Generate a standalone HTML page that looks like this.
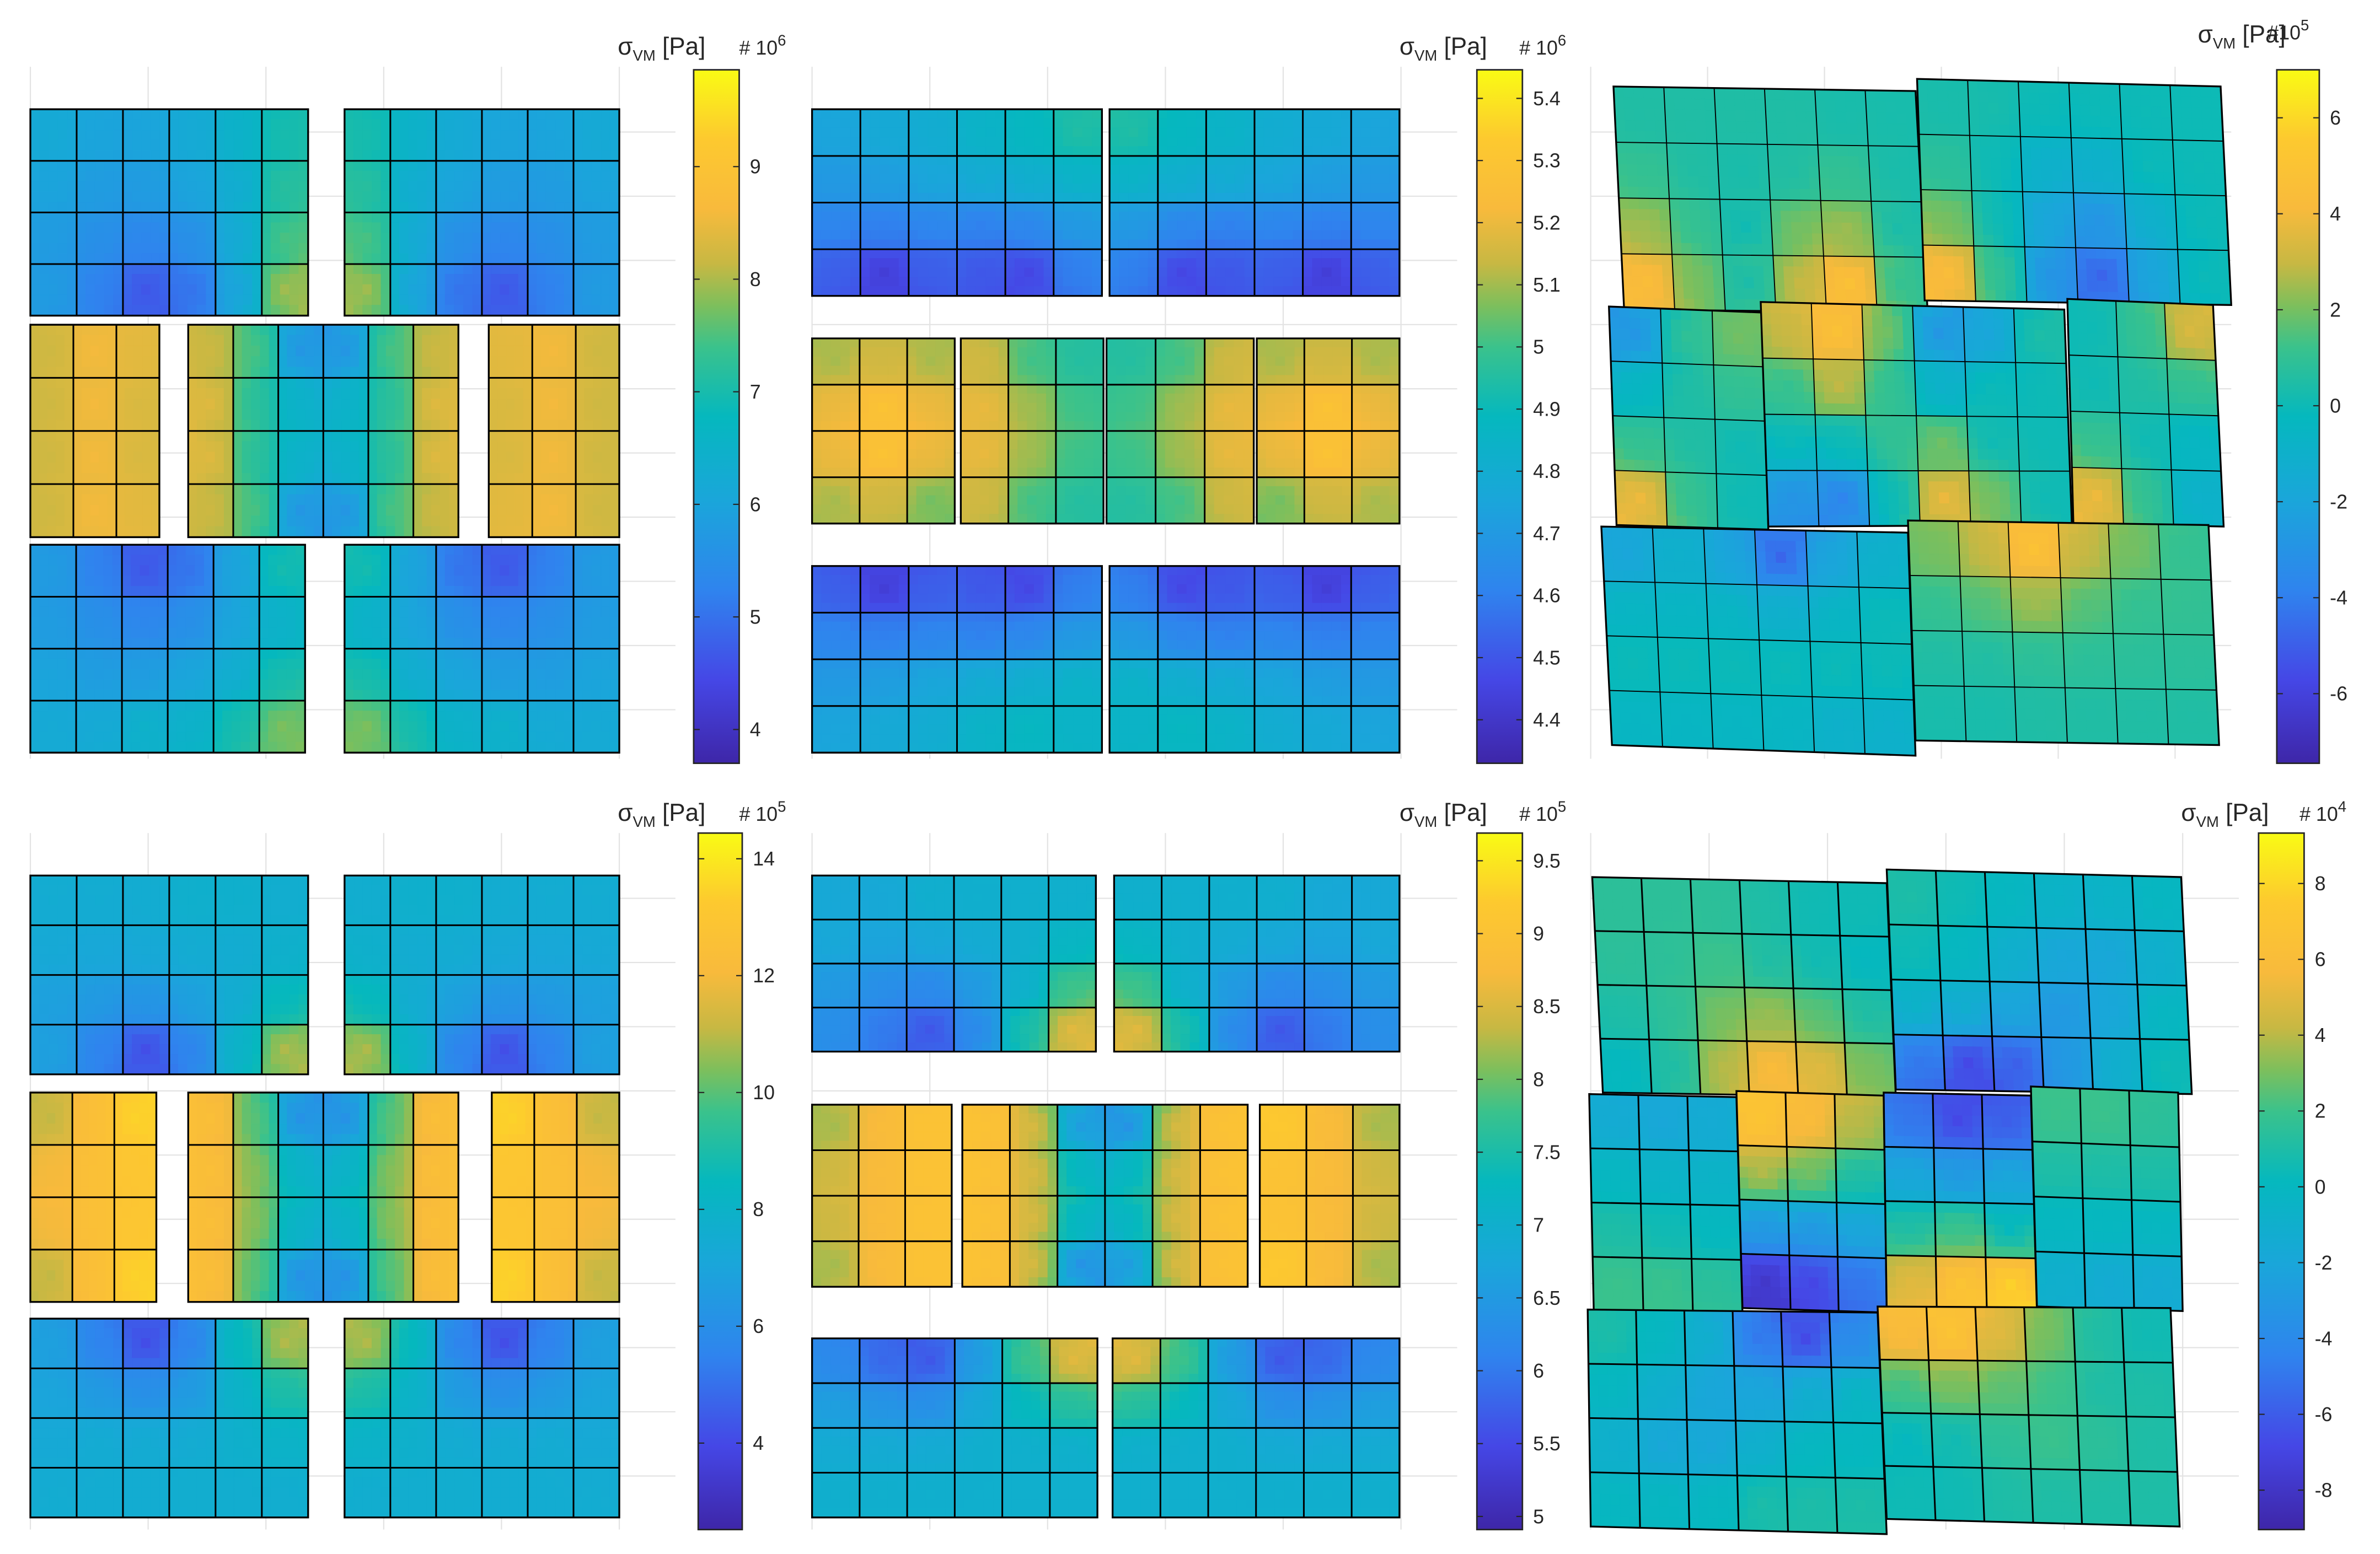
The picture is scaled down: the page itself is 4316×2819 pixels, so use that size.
<!DOCTYPE html>
<html><head><meta charset="utf-8"><style>
html,body{margin:0;padding:0;background:#fff;overflow:hidden;width:4316px;height:2819px;}
svg{display:block;}
text{font-family:"Liberation Sans",sans-serif;fill:#262626;}
</style></head><body>
<svg id="fig" width="4316" height="2819" viewBox="0 0 1568 1024.1" preserveAspectRatio="none" xmlns="http://www.w3.org/2000/svg">
<defs>
<linearGradient id="parula" x1="0" y1="1" x2="0" y2="0">
<stop offset="0" stop-color="#3e26a8"/><stop offset="0.12" stop-color="#4547e6"/>
<stop offset="0.25" stop-color="#2f84ee"/><stop offset="0.38" stop-color="#1aa6da"/>
<stop offset="0.5" stop-color="#05b8be"/><stop offset="0.6" stop-color="#3ac28c"/>
<stop offset="0.66" stop-color="#7dbf5c"/><stop offset="0.72" stop-color="#c7b843"/>
<stop offset="0.8" stop-color="#f8ba3c"/>
<stop offset="0.9" stop-color="#fdc92f"/><stop offset="1" stop-color="#f9fb14"/>
</linearGradient>
</defs>
</svg>
<script>
// ---- colorbar ticks ----
const ticks1=[4,5,6,7,8,9];
const ticks2=[4.4,4.5,4.6,4.7,4.8,4.9,5,5.1,5.2,5.3,5.4];
const ticks3=[-6,-4,-2,0,2,4,6];
const ticks4=[4,6,8,10,12,14];
const ticks5=[5,5.5,6,6.5,7,7.5,8,8.5,9,9.5];
const ticks6=[-8,-6,-4,-2,0,2,4,6,8];
const exps=['6','6','5','5','5','4'];
const ranges=[[3.70,9.86],[4.33,5.446],[-7.45,7.0],[2.52,14.44],[4.91,9.69],[-9.04,9.33]];
// ---- element stress values (per block, rows x cols) ----
const p1TL=[[6.2,6.0,6.0,6.2,6.5,7.0],[6.0,5.8,5.8,6.0,6.3,7.2],[5.8,5.5,5.3,5.5,6.2,7.5],[5.8,5.2,4.6,5.0,6.0,8.0]];
const p1TR=[[7.0,6.5,6.2,6.0,6.0,6.2],[7.2,6.3,6.0,5.8,5.8,6.0],[7.5,6.2,5.5,5.3,5.5,5.8],[8.0,6.0,5.0,4.6,5.2,5.8]];
const p1ML=[[8.2,8.6,8.4],[8.2,8.6,8.3],[8.2,8.6,8.3],[8.2,8.6,8.4]];
const p1MC=[[8.2,7.5,5.6,5.6,7.5,8.2],[8.4,7.2,6.5,6.5,7.2,8.4],[8.4,7.2,6.5,6.5,7.2,8.4],[8.2,7.5,5.6,5.6,7.5,8.2]];
const p1MR=[[8.4,8.6,8.2],[8.3,8.6,8.2],[8.3,8.6,8.2],[8.4,8.6,8.2]];
const p1BL=[[5.8,5.2,4.6,5.0,6.0,7.0],[5.8,5.5,5.3,5.5,6.0,6.5],[6.0,5.8,5.8,6.0,6.3,7.0],[6.2,6.2,6.5,6.5,7.0,7.8]];
const p1BR=[[7.0,6.0,5.0,4.6,5.2,5.8],[6.5,6.0,5.5,5.3,5.5,5.8],[7.0,6.3,6.0,5.8,5.8,6.0],[7.8,7.0,6.5,6.5,6.2,6.2]];
const p2TL=[[4.75,4.78,4.8,4.85,4.88,4.95],[4.7,4.72,4.76,4.8,4.82,4.85],[4.62,4.6,4.62,4.6,4.62,4.7],[4.52,4.42,4.52,4.5,4.45,4.6]];
const p2TR=[[4.95,4.88,4.85,4.8,4.78,4.75],[4.85,4.82,4.8,4.76,4.72,4.7],[4.7,4.62,4.6,4.62,4.6,4.62],[4.6,4.45,4.5,4.52,4.42,4.52]];
const p2M1=[[5.1,5.15,5.1],[5.2,5.3,5.2],[5.2,5.3,5.2],[5.1,5.15,5.05]];
const p2M2=[[5.15,5.0,4.95],[5.2,5.1,5.0],[5.2,5.1,5.0],[5.15,5.0,4.95]];
const p2M3=[[4.95,5.0,5.15],[5.0,5.1,5.2],[5.0,5.1,5.2],[4.95,5.0,5.15]];
const p2M4=[[5.1,5.15,5.1],[5.2,5.3,5.2],[5.2,5.3,5.2],[5.05,5.15,5.1]];
const p2BL=[[4.52,4.42,4.52,4.5,4.45,4.6],[4.62,4.6,4.62,4.6,4.62,4.7],[4.7,4.72,4.76,4.8,4.82,4.85],[4.75,4.78,4.8,4.85,4.88,4.85]];
const p2BR=[[4.6,4.45,4.5,4.52,4.42,4.52],[4.7,4.62,4.6,4.62,4.6,4.62],[4.85,4.82,4.8,4.76,4.72,4.7],[4.85,4.88,4.85,4.8,4.78,4.75]];
const p3TL=[[0.5,0.5,0.5,0.5,0.3,0.3],[1,0.5,0.3,0.5,1,0.3],[2.5,1,0,2,2.5,0.3],[4.5,2,0.3,3,5,1]];
const p3TR=[[0.3,0.3,0,0,0,0],[0.8,0,-1,-1,0,0],[2,0,-2,-3,-1,0],[4.5,1,-3,-5,-2,0]];
const p3ML=[[-3,1,2],[-0.5,0.5,1],[1,0.5,0],[4,1,0]];
const p3MC=[[3,5,2,-3,-2,0.5],[1,3,1,-1,0,0],[0,0,1,2,0,0],[-3,-4,0,4,2,0]];
const p3MR=[[0,1,3.5],[0,0.5,1],[1,0,-0.5],[4,1,-1]];
const p3BL=[[-2,-1,-2,-5,-2,-1],[-0.5,-0.5,-0.5,-1,-0.5,0],[0,0,0,0,0,0],[-0.5,-0.5,-0.5,-0.5,-1,-1]];
const p3BR=[[2,3,5,3,2,1],[1,1.5,2.5,1.5,1,1],[0.5,0.5,0.8,0.8,0.8,0.8],[0.3,0.3,0.5,0.5,0.5,0.5]];
const p4TL=[[7.5,7.5,7.5,7.8,7.8,7.6],[7.3,7.2,7.3,7.5,7.5,7.8],[6.8,6.5,6.3,6.8,7.5,8.5],[6.8,5.5,4.0,5.5,8.0,11]];
const p4TR=[[7.6,7.8,7.8,7.5,7.5,7.5],[7.8,7.5,7.5,7.3,7.2,7.3],[8.5,7.5,6.8,6.3,6.5,6.8],[11,8.0,5.5,4.0,5.5,6.8]];
const p4ML=[[11,12.5,13.5],[12,12.5,13],[12,12.5,13],[11,12.5,13.5]];
const p4MC=[[12.5,10,6,6,10,12.5],[12.5,10.5,8,8,10.5,12.5],[12.5,10.5,8,8,10.5,12.5],[12.5,10,6,6,10,12.5]];
const p4MR=[[13.5,12.5,11],[13,12.5,12],[13,12.5,12],[13.5,12.5,11]];
const p4BL=[[6.8,5.5,4.0,5.5,8.5,11],[7.0,6.5,6.0,6.5,8,9],[7.3,7.5,7.5,7.5,7.8,8],[7.5,7.5,7.5,7.6,7.6,7.6]];
const p4BR=[[11,8.5,5.5,4.0,5.5,6.8],[9,8,6.5,6.0,6.5,7.0],[8,7.8,7.5,7.5,7.5,7.3],[7.6,7.6,7.6,7.5,7.5,7.5]];
const p5TL=[[6.8,6.8,7,7,7,7],[6.8,6.7,6.8,6.9,7,7.2],[6.5,6.3,6.2,6.5,7,7.8],[6.3,6,5.6,6.2,7.5,8.6]];
const p5TR=[[7,7,7,7,6.8,6.8],[7.2,7,6.9,6.8,6.7,6.8],[7.8,7,6.5,6.2,6.3,6.5],[8.6,7.5,6.2,5.6,6,6.3]];
const p5ML=[[8.2,8.8,9.0],[8.4,8.8,9.0],[8.4,8.8,9.0],[8.2,8.8,9.0]];
const p5MC=[[9.0,8.5,6.5,6.3,8.5,9.0],[9,8.5,7.2,7.2,8.5,9],[9,8.5,7.2,7.2,8.5,9],[9.0,8.5,6.3,6.5,8.5,9.0]];
const p5MR=[[9.2,8.8,8.2],[9.0,8.8,8.4],[9.0,8.8,8.4],[9.2,8.8,8.2]];
const p5BL=[[6.2,5.8,5.6,6.5,7.8,8.6],[6.6,6.4,6.3,6.8,7.3,7.6],[6.9,6.9,6.9,7,7,7],[7,7,7,7,7,7]];
const p5BR=[[8.6,7.8,6.5,5.6,5.8,6.2],[7.6,7.3,6.8,6.3,6.4,6.6],[7,7,7,6.9,6.9,6.9],[7,7,7,7,7,7]];
const p6TL=[[1.5,1.5,1.5,1,0.5,0.5],[1.5,1.5,2,1,0.5,0],[1,1.5,3,3.5,2.5,1],[0,1,4,6,5,3]];
const p6TR=[[1,0.5,0,-0.5,-0.5,0],[0.5,0,-1,-2,-2,-1],[-0.5,-1,-2,-3,-2,0],[-5,-7,-6,-3,-1,0.5]];
const p6M1=[[-1.5,-2,-1.5],[0,-0.5,-0.5],[1,0.5,0],[2,2,1.5]];
const p6M2=[[7,6,4],[4,3,1],[-3,-3,-2],[-8,-7,-5]];
const p6M3=[[-5,-7,-6],[-2,-3,-2],[1,2,0],[5,7,8]];
const p6M4=[[2,2,1.5],[1,1,1],[0,0,0],[-1,-1.5,-1.5]];
const p6BL=[[1,0,-1,-5,-7,-4],[0,-1,-2,-2,-1,0],[-1,-2,-2,-1,0,0],[0,0,0,1,1,1]];
const p6BR=[[6,7,5,3,1,0.5],[2,3,2.5,2,1,1],[0,0.5,1.5,2,1.5,1],[0.5,0.5,1,1,1,1]];

// ---- layout (geometry) ----
function R(x0,y0,x1,y1){return [[x0,y0],[x1,y0],[x1,y1],[x0,y1]];}
const panels=[
 {name:'panel-1',ax:[20,44,445,500],cb:[457,46,487,503],ticks:ticks1,lab:[407,36],exp:[487,36],
  blocks:[[R(20,72,203,208),p1TL],[R(227,72,408,208),p1TR],[R(20,214,105,354),p1ML],[R(124,214,302,354),p1MC],[R(322,214,408,354),p1MR],[R(20,359,201,496),p1BL],[R(227,359,408,496),p1BR]]},
 {name:'panel-2',ax:[535,44,960,500],cb:[973,46,1003,503],ticks:ticks2,lab:[922,36],exp:[1001,36],
  blocks:[[R(535,72,726,195),p2TL],[R(731,72,922,195),p2TR],[R(535,223,629,345),p2M1],[R(633,223,727,345),p2M2],[R(729,223,826,345),p2M3],[R(828,223,922,345),p2M4],[R(535,373,726,496),p2BL],[R(731,373,922,496),p2BR]]},
 {name:'panel-3',ax:[1048,44,1470,500],cb:[1500,46,1528,503],ticks:ticks3,lab:[1448,28],exp:[1494,26],thin:true,
  blocks:[[[[1063,57],[1262,60],[1270,206],[1070,204]],p3TL],[[[1263,52],[1463,57],[1470,201],[1268,198]],p3TR],
   [[[1060,202],[1162,206],[1165,349],[1065,346]],p3ML],[[[1160,199],[1360,204],[1365,346],[1165,347]],p3MC],[[[1362,197],[1458,201],[1465,347],[1366,345]],p3MR],
   [[[1055,347],[1257,351],[1262,498],[1062,491]],p3BL],[[[1257,343],[1455,346],[1462,491],[1262,488]],p3BR]]},
 {name:'panel-4',ax:[20,549,445,1008],cb:[460,549,489,1008],ticks:ticks4,lab:[407,541],exp:[487,541],
  blocks:[[R(20,577,203,708),p4TL],[R(227,577,408,708),p4TR],[R(20,720,103,858),p4ML],[R(124,720,302,858),p4MC],[R(324,720,408,858),p4MR],[R(20,869,203,1000),p4BL],[R(227,869,408,1000),p4BR]]},
 {name:'panel-5',ax:[535,549,960,1008],cb:[973,549,1003,1008],ticks:ticks5,lab:[922,541],exp:[1001,541],
  blocks:[[R(535,577,722,693),p5TL],[R(734,577,922,693),p5TR],[R(535,728,627,848),p5ML],[R(634,728,822,848),p5MC],[R(830,728,922,848),p5MR],[R(535,882,723,1000),p5BL],[R(733,882,922,1000),p5BR]]},
 {name:'panel-6',ax:[1048,549,1475,1008],cb:[1488,549,1518,1008],ticks:ticks6,lab:[1437,541],exp:[1515,541],
  blocks:[[[[1049,578],[1243,582],[1249,723],[1056,720]],p6TL],[[[1243,573],[1437,578],[1444,721],[1249,718]],p6TR],
   [[[1047,721],[1144,723],[1148,866],[1050,864]],p6M1],[[[1144,719],[1241,722],[1243,865],[1148,862]],p6M2],
   [[[1241,720],[1338,722],[1342,865],[1243,863]],p6M3],[[[1338,716],[1435,720],[1438,864],[1342,861]],p6M4],
   [[[1046,863],[1237,865],[1243,1011],[1048,1006]],p6BL],[[[1237,861],[1430,862],[1436,1006],[1243,1001]],p6BR]]}
];

const NS='http://www.w3.org/2000/svg';
const svg=document.getElementById('fig');
const stops=[[0,'3e26a8'],[0.12,'4547e6'],[0.25,'2f84ee'],[0.38,'1aa6da'],[0.5,'05b8be'],[0.6,'3ac28c'],[0.66,'7dbf5c'],[0.72,'c7b843'],[0.8,'f8ba3c'],[0.9,'fdc92f'],[1,'f9fb14']]
 .map(s=>[s[0],[0,2,4].map(k=>parseInt(s[1].substr(k,2),16))]);
function parula(t){t=Math.max(0,Math.min(1,t));let i=0;while(i<stops.length-2&&t>stops[i+1][0])i++;
 const u=(t-stops[i][0])/(stops[i+1][0]-stops[i][0]);
 const c=stops[i][1].map((a,k)=>Math.round(a+(stops[i+1][1][k]-a)*u));return 'rgb('+c.join(',')+')';}
function el(tag,attrs,parent){const e=document.createElementNS(NS,tag);for(const k in attrs)e.setAttribute(k,attrs[k]);(parent||svg).appendChild(e);return e;}
function P(q,s,t){const x=(1-s)*(1-t)*q[0][0]+s*(1-t)*q[1][0]+s*t*q[2][0]+(1-s)*t*q[3][0];
 const y=(1-s)*(1-t)*q[0][1]+s*(1-t)*q[1][1]+s*t*q[2][1]+(1-s)*t*q[3][1];return [x,y];}
function pts(a){return a.map(p=>p[0].toFixed(2)+','+p[1].toFixed(2)).join(' ');}
const SUB=5;
panels.forEach((pn,pi)=>{
 const g=el('g',{});
 
 
 const [vmin,vmax]=ranges[pi];
 const ax=pn.ax;
 const grid=el('g',{stroke:'#e3e3e3','stroke-width':0.8},g);
 
 
 for(let y=ax[1]+43;y<ax[3];y+=42.3) el('line',{x1:ax[0],x2:ax[2],y1:y,y2:y},grid);
 for(let k=0;k<=5;k++){const x=ax[0]+k*(ax[2]-ax[0]-37)/5;el('line',{x1:x,x2:x,y1:ax[1],y2:ax[3]},grid);}
 pn.blocks.forEach((b,bi)=>{
  const q=b[0],vals=b[1],rows=vals.length,cols=vals[0].length;
  const bg=el('g',{},g);
  
  
  const cv=(i,j)=>vals[Math.max(0,Math.min(rows-1,i))][Math.max(0,Math.min(cols-1,j))];
  const nv=(i,j)=>(cv(i-1,j-1)+cv(i-1,j)+cv(i,j-1)+cv(i,j))/4;
  const fg=el('g',{},bg);
  for(let i=0;i<rows;i++)for(let j=0;j<cols;j++){
   const n00=nv(i,j),n01=nv(i,j+1),n10=nv(i+1,j),n11=nv(i+1,j+1),c=vals[i][j];
   for(let a=0;a<SUB;a++)for(let bb=0;bb<SUB;bb++){
    const s=(bb+0.5)/SUB,t=(a+0.5)/SUB;
    const bil=(1-s)*(1-t)*n00+s*(1-t)*n01+(1-s)*t*n10+s*t*n11;
    const w=Math.max(0,1-2*Math.max(Math.abs(s-0.5),Math.abs(t-0.5)));
    const m=0.35+0.55*w;
    const v=bil*(1-m)+c*m;
    const col=parula((v-vmin)/(vmax-vmin));
    const s0=(j+bb/SUB)/cols,s1=(j+(bb+1)/SUB)/cols,t0=(i+a/SUB)/rows,t1=(i+(a+1)/SUB)/rows;
    const poly=[P(q,s0,t0),P(q,s1,t0),P(q,s1,t1),P(q,s0,t1)];
    const cell=el('polygon',{points:pts(poly),fill:col,stroke:col,'stroke-width':0.5},fg);
    
    
   }
  }
  const lw=pn.thin?0.7:1.1;
  const ln=el('g',{stroke:'#000','stroke-width':lw,fill:'none'},bg);
  for(let i=1;i<rows;i++)el('line',{x1:P(q,0,i/rows)[0],y1:P(q,0,i/rows)[1],x2:P(q,1,i/rows)[0],y2:P(q,1,i/rows)[1]},ln);
  for(let j=1;j<cols;j++)el('line',{x1:P(q,j/cols,0)[0],y1:P(q,j/cols,0)[1],x2:P(q,j/cols,1)[0],y2:P(q,j/cols,1)[1]},ln);
  el('polygon',{points:pts(q),'stroke-width':1.2},ln);
 });
 const cb=pn.cb;
 const cbg=el('g',{},g);
 
 
 el('rect',{x:cb[0],y:cb[1],width:cb[2]-cb[0],height:cb[3]-cb[1],fill:'url(#parula)',stroke:'#262626','stroke-width':1},cbg);
 const yv=v=>cb[3]-(v-vmin)/(vmax-vmin)*(cb[3]-cb[1]);
 pn.ticks.forEach(v=>{
  const y=yv(v);
  el('line',{x1:cb[2]-4,x2:cb[2],y1:y,y2:y,stroke:'#262626','stroke-width':0.8},cbg);
  el('line',{x1:cb[0],x2:cb[0]+4,y1:y,y2:y,stroke:'#262626','stroke-width':0.8},cbg);
  const t=el('text',{x:cb[2]+7,y:y+4.5,'font-size':13},cbg);
  t.textContent=String(v);
  
  
 });
 const lab=el('text',{x:pn.lab[0],y:pn.lab[1],'font-size':16},g);
 
 
 lab.innerHTML='σ<tspan font-size="10" dy="4">VM</tspan><tspan dy="-4"> [Pa]</tspan>';
 const ex=el('text',{x:pn.exp[0],y:pn.exp[1],'font-size':13},g);
 
 
 ex.innerHTML=(pi===2?'#10':'# 10')+'<tspan font-size="10" dy="-6">'+exps[pi]+'</tspan>';
});
</script>
</body></html>
